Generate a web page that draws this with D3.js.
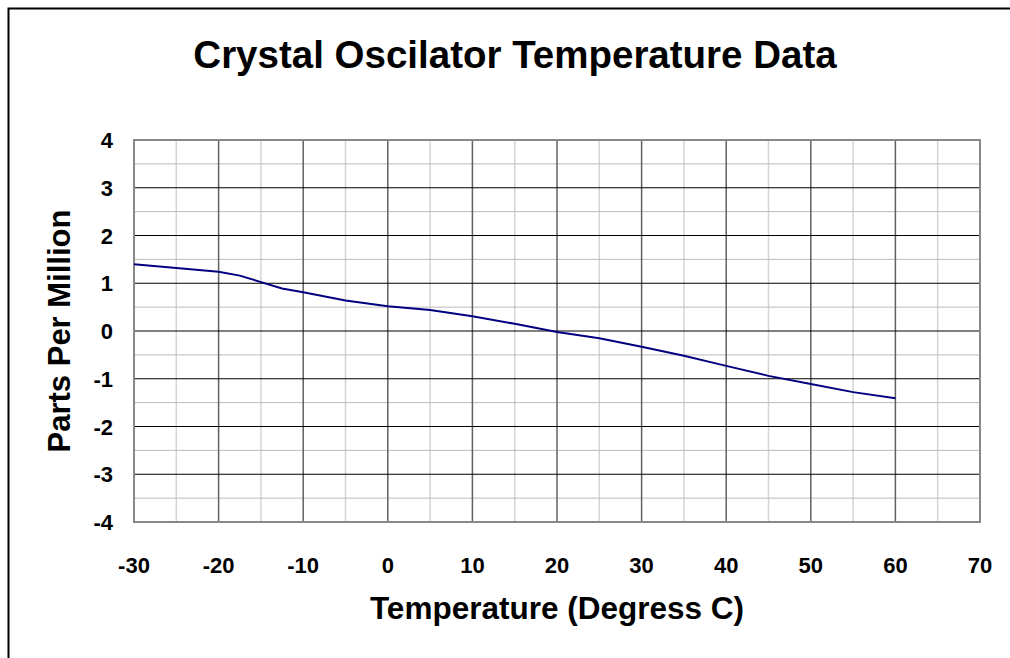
<!DOCTYPE html>
<html>
<head>
<meta charset="utf-8">
<script src="https://cdn.jsdelivr.net/npm/d3@7"></script>
<style>
  body { margin: 0; background: #fff; }
  text { font-family: "Liberation Sans", Arial, sans-serif; font-weight: bold; fill: #000; }
</style>
</head>
<body>
<div id="chart"></div>
<script>
// temperature (deg C) and frequency deviation (ppm)
var temps = [-30, -20, -17.5, -12.5, -10, -5, 0, 5, 10, 15, 20, 25, 30, 35, 40, 45, 50, 55, 60];
var ppm = [1.40, 1.24, 1.16, 0.89, 0.81, 0.64, 0.52, 0.44, 0.31, 0.15, -0.02, -0.15, -0.33, -0.52, -0.73, -0.94, -1.11, -1.28, -1.41];
var xTicks = [-30, -20, -10, 0, 10, 20, 30, 40, 50, 60, 70];
var yTicks = [-4, -3, -2, -1, 0, 1, 2, 3, 4];

var width = 1010, height = 658;
var margin = {top: 140, right: 30, bottom: 136, left: 134};

var svg = d3.select("#chart").append("svg")
    .attr("width", width)
    .attr("height", height);

// outer frame (runs off the right and bottom)
svg.append("rect")
    .attr("x", 8.5).attr("y", 8.5)
    .attr("width", width + 20).attr("height", height + 20)
    .attr("fill", "none").attr("stroke", "#000").attr("stroke-width", 2);

var xScale = d3.scaleLinear().domain([-30, 70]).range([margin.left, width - margin.right]);
var yScale = d3.scaleLinear().domain([-4, 4]).range([height - margin.bottom, margin.top]);

var g = svg.append("g");

// minor grid
var xMinor = d3.range(-25, 70, 10);
var yMinor = d3.range(-3.5, 4, 1);

g.selectAll(".vminor").data(xMinor).enter().append("line")
    .attr("x1", function(d) { return xScale(d); })
    .attr("x2", function(d) { return xScale(d); })
    .attr("y1", yScale(4)).attr("y2", yScale(-4))
    .attr("stroke", "#d4d4d4").attr("stroke-width", 1.5);

g.selectAll(".hminor").data(yMinor).enter().append("line")
    .attr("x1", xScale(-30)).attr("x2", xScale(70))
    .attr("y1", function(d) { return yScale(d); })
    .attr("y2", function(d) { return yScale(d); })
    .attr("stroke", "#bbbbbb").attr("stroke-width", 1);

// major grid
g.selectAll(".vmajor").data(xTicks.slice(1, -1)).enter().append("line")
    .attr("x1", function(d) { return xScale(d); })
    .attr("x2", function(d) { return xScale(d); })
    .attr("y1", yScale(4)).attr("y2", yScale(-4))
    .attr("stroke", "#606060").attr("stroke-width", 1.5);

g.selectAll(".hmajor").data(yTicks.slice(1, -1)).enter().append("line")
    .attr("x1", xScale(-30)).attr("x2", xScale(70))
    .attr("y1", function(d) { return yScale(d); })
    .attr("y2", function(d) { return yScale(d); })
    .attr("stroke", "#000").attr("stroke-width", 1);

// plot border
g.append("rect")
    .attr("x", xScale(-30)).attr("y", yScale(4))
    .attr("width", xScale(70) - xScale(-30))
    .attr("height", yScale(-4) - yScale(4))
    .attr("fill", "none").attr("stroke", "#888").attr("stroke-width", 2);

// data line
var line = d3.line()
    .x(function(d, i) { return xScale(temps[i]); })
    .y(function(d) { return yScale(d); });

g.append("path")
    .datum(ppm)
    .attr("d", line)
    .attr("fill", "none")
    .attr("stroke", "#000080")
    .attr("stroke-width", 2);

// tick labels
svg.selectAll(".xlab").data(xTicks).enter().append("text")
    .attr("x", function(d) { return xScale(d); })
    .attr("y", yScale(-4) + 51)
    .attr("text-anchor", "middle")
    .style("font-size", "22px")
    .text(function(d) { return d; });

svg.selectAll(".ylab").data(yTicks).enter().append("text")
    .attr("x", xScale(-30) - 21)
    .attr("y", function(d) { return yScale(d) + 8; })
    .attr("text-anchor", "end")
    .style("font-size", "22px")
    .text(function(d) { return d; });

// titles
svg.append("text")
    .attr("x", 515).attr("y", 68)
    .attr("text-anchor", "middle")
    .style("font-size", "38.5px")
    .text("Crystal Oscilator Temperature Data");

svg.append("text")
    .attr("x", 557).attr("y", 619)
    .attr("text-anchor", "middle")
    .style("font-size", "31.5px")
    .text("Temperature (Degress C)");

svg.append("text")
    .attr("transform", "translate(70," + yScale(0) + ") rotate(-90)")
    .attr("text-anchor", "middle")
    .style("font-size", "31px")
    .text("Parts Per Million");
</script>
</body>
</html>
